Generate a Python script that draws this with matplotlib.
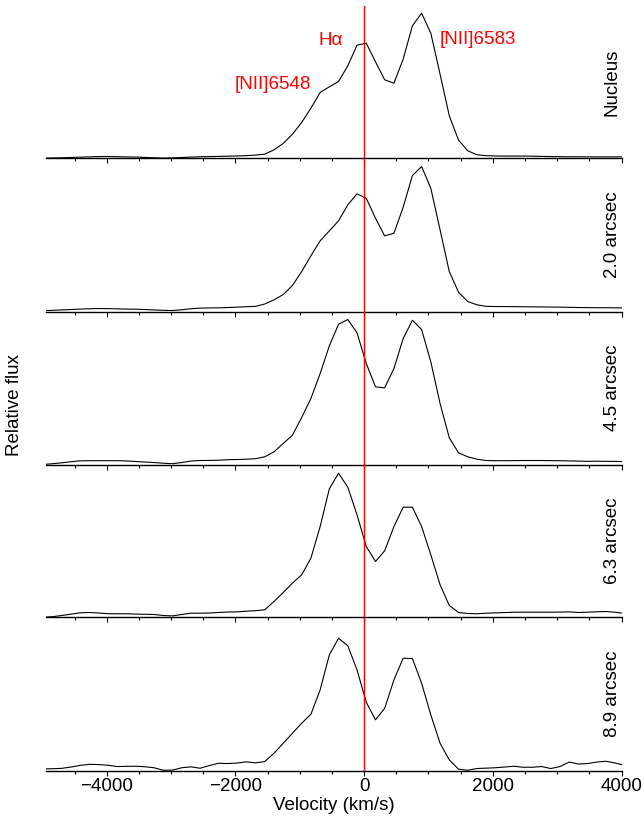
import numpy as np
import matplotlib
matplotlib.use('Agg')
import matplotlib.pyplot as plt

plt.rcParams['font.family'] = ['Liberation Sans', 'DejaVu Sans']

# velocity grid (km/s), one point per spectral pixel
velocity = [-5130, -4986, -4843, -4700, -4556, -4413, -4269, -4126, -3983, -3839,
            -3696, -3552, -3409, -3266, -3122, -2979, -2835, -2692, -2549, -2405,
            -2262, -2118, -1975, -1832, -1688, -1545, -1401, -1258, -1115, -971,
            -828, -684, -541, -398, -254, -111, 33, 176, 319, 463,
            606, 750, 893, 1036, 1180, 1323, 1467, 1610, 1753, 1897,
            2040, 2184, 2327, 2470, 2614, 2757, 2901, 3044, 3188, 3331,
            3474, 3618, 3761, 3905, 4048]

flux_nucleus = [0.3, 0.3, 0.5, 0.7, 1.0, 1.3, 1.6, 1.9, 2.0, 1.8,
                1.6, 1.4, 1.1, 0.7, 0.4, 0.6, 1.0, 1.4, 1.7, 1.9,
                2.1, 2.3, 2.5, 2.8, 3.4, 4.3,
                8.7, 15, 24.3, 36, 50.3, 66, 71.7, 77, 92.7, 113.3, 115.3,
                96.7, 78.7, 75.3, 99.3, 132.7, 145.3, 125.3, 84.3, 42.7, 18.3, 7.7, 3.7,
                2.8, 2.5, 2.4, 2.4, 2.4, 2.3, 2.1, 1.9, 1.8, 1.7, 1.7, 1.6, 1.6, 1.6, 1.6, 1.6]

flux_20 = [0.5, 0.8, 1.2, 1.6, 2.0, 2.4, 2.8, 3.0, 2.9, 2.7,
           2.5, 2.3, 2.0, 1.6, 1.2, 1.0, 1.8, 2.8, 3.4, 3.6,
           3.7, 4.0, 4.4, 4.8, 5.2, 7.5,
           11.7, 17, 26, 40, 55.7, 70.7, 80.7, 90.7, 106.7, 117.7, 113.3,
           93.3, 75.7, 78.3, 104.3, 136, 145, 123.3, 81.7, 40, 19.3, 10, 6.7,
           5.2, 5.0, 5.0, 4.9, 4.8, 4.7, 4.6, 4.5, 4.4, 4.2, 4.0, 3.9, 3.8, 3.8, 3.7, 3.7]

flux_45 = [0, 0, 0.8, 1.7, 2.8, 3.7, 3.8, 3.8, 3.8, 3.8,
           3.6, 3.0, 2.5, 2.0, 1.3, 0.8, 2.0, 3.5, 4.0, 4.1,
           4.3, 4.8, 5.0, 5.3, 5.8, 7.7,
           12.7, 21, 29.3, 47, 66, 91, 118.7, 140.3, 145, 131.7, 101,
           77.7, 76.7, 96, 126, 144.3, 135, 102.7, 61, 26.7, 11.7, 7.7, 5.3,
           4.0, 3.8, 3.8, 3.9, 4.0, 4.0, 4.0, 3.9, 3.8, 3.6, 3.4, 3.2, 3.3, 3.2, 3.1, 2.9]

flux_63 = [0, 0.3, 0.8, 2.0, 3.3, 4.7, 5.0, 4.5, 3.8, 3.7,
           3.7, 3.4, 3.2, 3.0, 2.0, 1.6, 3.0, 4.3, 4.3, 4.5,
           5.0, 5.5, 5.6, 6.3, 6.8, 7.7,
           16, 25, 34.3, 42.7, 59.3, 91, 128.7, 144.3, 130.3, 102.7, 71,
           56, 66.7, 91, 110.3, 110.3, 91, 62.7, 32.7, 12, 5, 4, 3.7,
           4.3, 4.6, 4.9, 5.3, 5.3, 5.3, 5.3, 5.3, 5.4, 5.6, 5.0, 5.3, 5.7, 6.0, 5.2, 4.0]

flux_89 = [1.5, 1.7, 1.8, 2.2, 3.5, 5.2, 6.2, 6.0, 5.3, 4.0,
           4.2, 4.3, 3.8, 2.8, 0.3, 0.4, 2.8, 3.7, 2.3, 5.0,
           7.3, 7.0, 7.5, 8.7, 7.7, 9.0,
           17.3, 27.3, 37.3, 47.3, 56.3, 80.7, 115.7, 132.3, 124.7, 100.7, 68.3,
           50.7, 62.3, 90.7, 112.3, 112, 87.3, 55.7, 27.3, 10.7, 1.3, 0.3, 2.0,
           2.4, 2.8, 3.5, 4.3, 3.3, 3.3, 4.0, 2.0, 4.0, 8.5, 6.5, 7.0, 8.5, 9.3, 7.5, 5.0]

panel_names = ['Nucleus', '2.0 arcsec', '4.5 arcsec', '6.3 arcsec', '8.9 arcsec']
panel_flux = [flux_nucleus, flux_20, flux_45, flux_63, flux_89]

# line labels in the top panel: (text, velocity, height)
line_labels = [('Hα', -517, 118.5), ('[NII]6583', 1766, 119.5), ('[NII]6548', -1418, 73.5)]

fs = 13.5
fig = plt.figure(figsize=(6.44, 8.22), dpi=100)

left, width = 0.0719, 0.8932
h = 0.1861
bottoms = [0.8072, 0.6210, 0.4349, 0.2488, 0.0626]

axes = []
for i, (name, flux) in enumerate(zip(panel_names, panel_flux)):
    ax = fig.add_axes([left, bottoms[i], width, h])
    ax.patch.set_visible(False)          # keep spines of the panel above visible
    ax.plot(velocity, flux, color='black', lw=0.8)
    ax.axvline(0, color='red', lw=1.0)
    ax.set_xlim(-4940, 4000)
    ax.set_ylim(0, 153)
    for s in ['top', 'left', 'right']:
        ax.spines[s].set_visible(False)
    ax.spines['bottom'].set_linewidth(1.0)
    ax.set_yticks([])
    ax.set_xticks([-4000, -2000, 0, 2000, 4000])
    ax.set_xticks(np.arange(-4500, 4001, 500), minor=True)
    ax.tick_params(axis='x', which='major', direction='out', length=3.5, width=0.8,
                   labelsize=fs, pad=2)
    ax.tick_params(axis='x', which='minor', direction='out', length=2, width=0.8)
    if i < 4:
        ax.tick_params(axis='x', labelbottom=False)
    ax.text(0.999, 0.5, name, rotation=90, ha='right', va='center',
            transform=ax.transAxes, fontsize=fs)
    axes.append(ax)

for txt, xv, yv in line_labels:
    axes[0].text(xv, yv, txt, color='red', fontsize=fs, ha='center', va='center')

axes[-1].set_xlabel('Velocity (km/s)', fontsize=fs, labelpad=1)
fig.text(15 / 644, 1 - 405 / 822, 'Relative flux', rotation=90, ha='center', va='center',
         fontsize=fs)

fig.savefig('out.png', dpi=100)
